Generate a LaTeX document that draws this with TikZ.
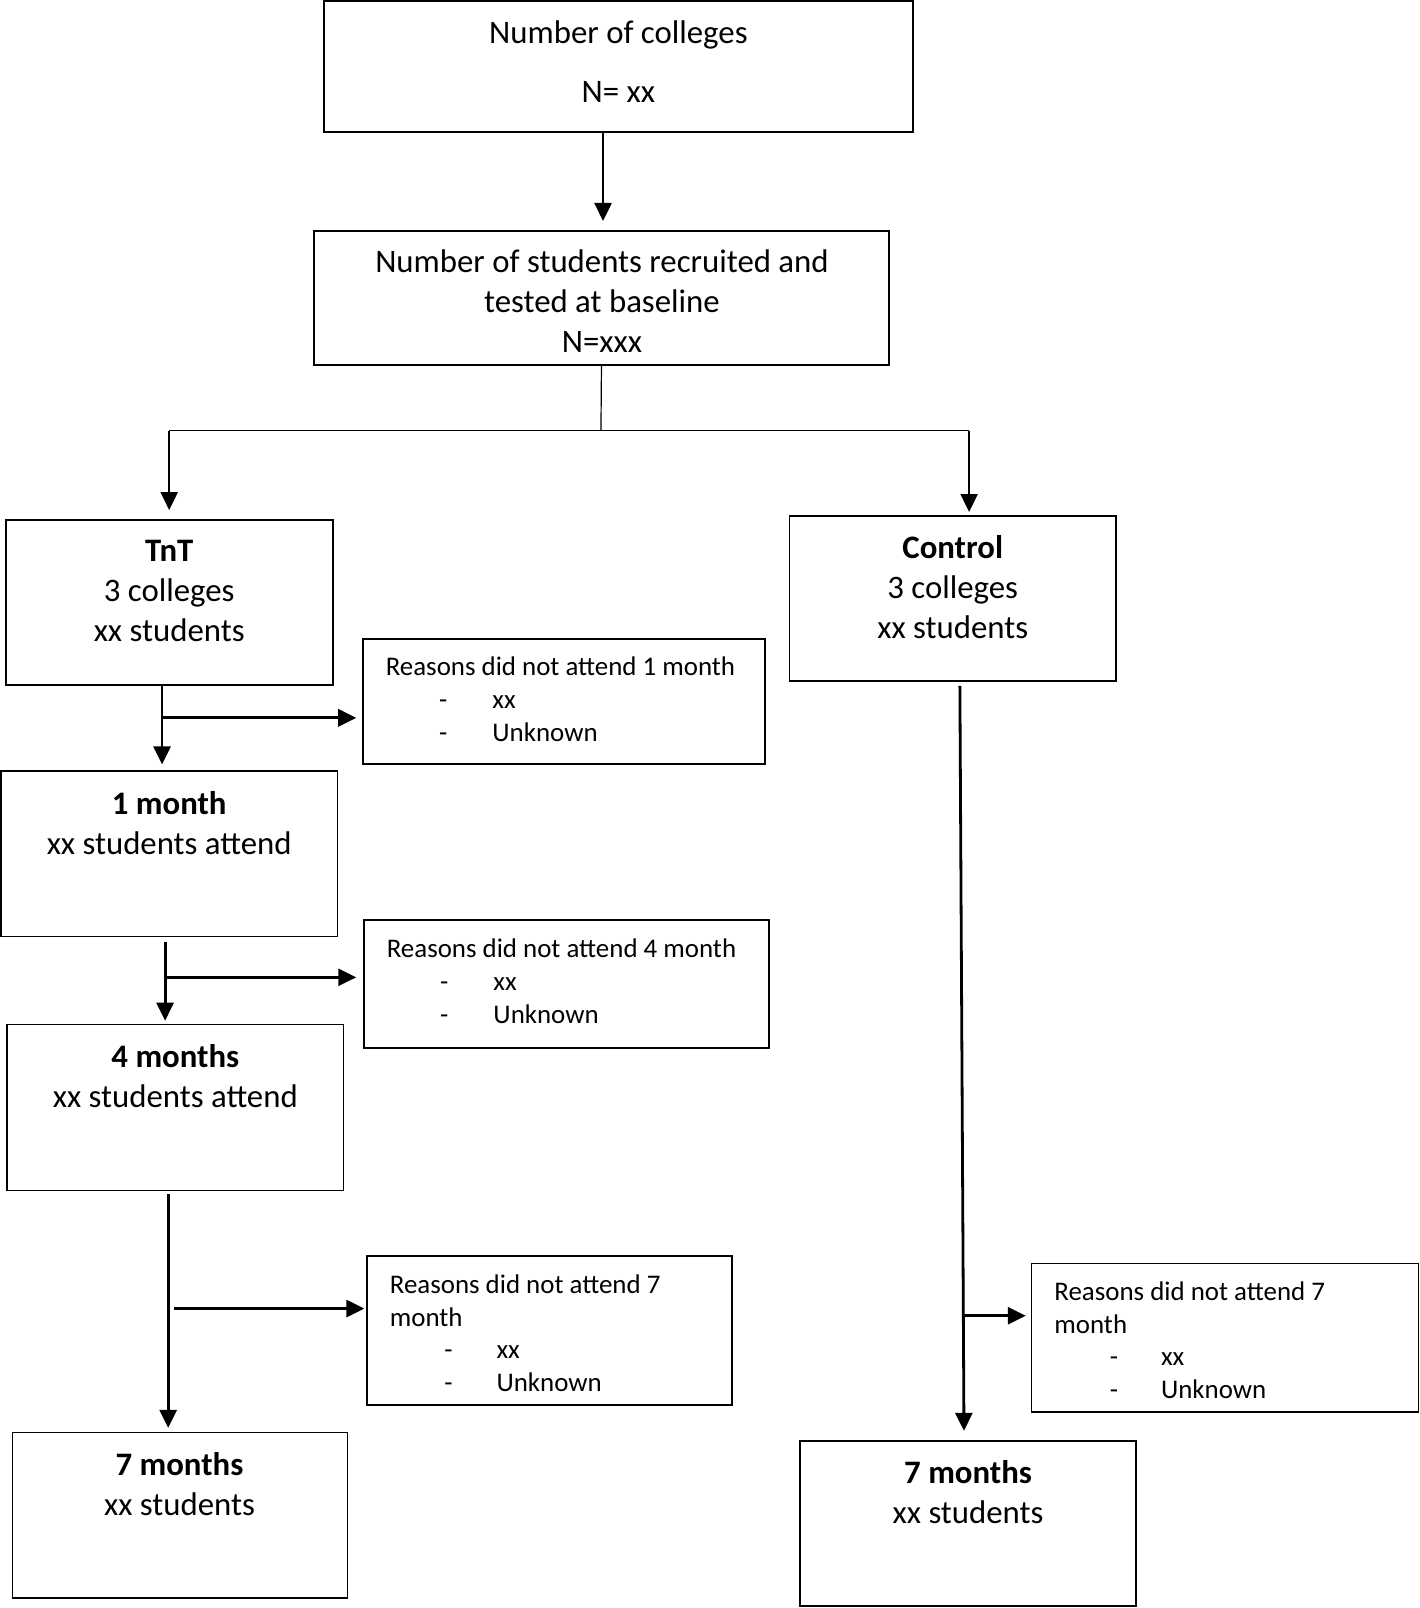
\documentclass[tikz,border=0pt]{standalone}
\usepackage{fontspec}
\setmainfont{Carlito}
\usetikzlibrary{arrows.meta,fit,calc}
\begin{document}
\begin{tikzpicture}[x=1.0253pt,y=-1.0253pt,
  box/.style={draw=black,line width=1.6pt,inner sep=0pt},
  big/.style={font=\fontsize{32.8}{40}\selectfont,inner sep=0pt,anchor=base},
  bigb/.style={font=\fontsize{32.8}{40}\selectfont\bfseries,inner sep=0pt,anchor=base},
  small/.style={font=\fontsize{26.9}{33}\selectfont,inner sep=0pt,anchor=base west},
  arr/.style={line width=2.8pt,-{Triangle[length=18pt,width=17pt]}},
  arrm/.style={line width=2.2pt,-{Triangle[length=18pt,width=17pt]}},
  thinline/.style={line width=1.2pt}]
\useasboundingbox (0,0) rectangle (1384,1568);
% boxes
\node[box,fit={(316,1)(890,129)}] (b1) {};
\node[box,fit={(306,225)(867,356)}] (b2) {};
\node[box,fit={(6,507)(325,668)}] (tnt) {};
\node[box,fit={(770,503)(1088,664)}] (ctrl) {};
\node[box,fit={(1,752)(329,913)}] (m1) {};
\node[box,fit={(354,623)(746,745)}] (r1) {};
\node[box,fit={(7,999)(335,1161)}] (m4) {};
\node[box,fit={(355,897)(750,1022)}] (r4) {};
\node[box,fit={(12,1397)(339,1558)}] (m7) {};
\node[box,fit={(358,1225)(714,1370)}] (r7) {};
\node[box,fit={(780,1405)(1108,1566)}] (c7) {};
\node[box,fit={(1006,1232)(1383,1377)}] (rc) {};
% texts
\node[big] (t1a) at (603,42) {Number of colleges};
\node[big] (t1b) at (603,100) {N= xx};
\node[big] (t2a) at (587,266) {Number of students recruited and};
\node[big] (t2b) at (587,305) {tested at baseline};
\node[big] (t2c) at (587,344) {N=xxx};
\node[bigb] (tta) at (165,548) {TnT};
\node[big] (ttb) at (165,587) {3 colleges};
\node[big] (ttc) at (165,626) {xx students};
\node[bigb] (tca) at (929,545) {Control};
\node[big] (tcb) at (929,584) {3 colleges};
\node[big] (tcc) at (929,623) {xx students};
\node[bigb] (tm1a) at (165,794) {1 month};
\node[big] (tm1b) at (165,833) {xx students attend};
\node[bigb] (tm4a) at (171,1041) {4 months};
\node[big] (tm4b) at (171,1080) {xx students attend};
\node[bigb] (tm7a) at (175,1439) {7 months};
\node[big] (tm7b) at (175,1478) {xx students};
\node[bigb] (tc7a) at (944,1447) {7 months};
\node[big] (tc7b) at (944,1486) {xx students};
% reasons texts
\node[small] (r1a) at (376,659) {Reasons did not attend 1 month};
\node[small] (r1b) at (428,691) {-};
\node[small] (r1c) at (480,691) {xx};
\node[small] (r1d) at (428,723) {-};
\node[small] (r1e) at (480,723) {Unknown};
\node[small] (r4a) at (377,934) {Reasons did not attend 4 month};
\node[small] (r4b) at (429,966) {-};
\node[small] (r4c) at (481,966) {xx};
\node[small] (r4d) at (429,998) {-};
\node[small] (r4e) at (481,998) {Unknown};
\node[small] (r7a) at (380,1261) {Reasons did not attend 7};
\node[small] (r7b) at (380,1293) {month};
\node[small] (r7c) at (433,1325) {-};
\node[small] (r7d) at (484,1325) {xx};
\node[small] (r7e) at (433,1357) {-};
\node[small] (r7f) at (484,1357) {Unknown};
\node[small] (rca) at (1028,1268) {Reasons did not attend 7};
\node[small] (rcb) at (1028,1300) {month};
\node[small] (rcc) at (1082,1332) {-};
\node[small] (rcd) at (1132,1332) {xx};
\node[small] (rce) at (1082,1364) {-};
\node[small] (rcf) at (1132,1364) {Unknown};
% connectors
\draw[arr,shorten >=9pt] ($(b1.south)+(-15,0)$) -- ($(b2.north)+(1.5,0)$);
\coordinate (sp) at (586,420);
\coordinate (spl) at (165,420);
\coordinate (spr) at (945,420);
\draw[thinline] (b2.south) -- (sp);
\draw[thinline] (spl) -- (spr);
\draw[arrm,shorten >=9pt] (spl) -- (spl |- tnt.north);
\draw[arrm,shorten >=3pt] (spr) -- (spr |- ctrl.north);
% TnT branch
\coordinate (v1) at (158,700);
\draw[arr,shorten >=6pt] (tnt.south -| v1) -- (m1.north -| v1);
\draw[arr,shorten >=6pt] (v1) -- (v1 -| r1.west);
\coordinate (v4) at (161,953);
\draw[arr,shorten <=5pt,shorten >=3pt] (m1.south -| v4) -- (m4.north -| v4);
\draw[arr,shorten >=7pt] (v4) -- (v4 -| r4.west);
\coordinate (v7) at (164,1276);
\coordinate (h7) at (170,1276);
\draw[arr,shorten <=3pt,shorten >=4pt] (m4.south -| v7) -- (m7.north -| v7);
\draw[arr,shorten >=2pt] (h7) -- (h7 -| r7.west);
% Control branch
\draw[arr] ($(ctrl.south)+(7,4)$) -- ($(c7.north)+(-4,-9)$);
\coordinate (hc) at (938,1283);
\draw[arr,shorten >=5pt] (hc) -- (hc -| rc.west);
\end{tikzpicture}
\end{document}
